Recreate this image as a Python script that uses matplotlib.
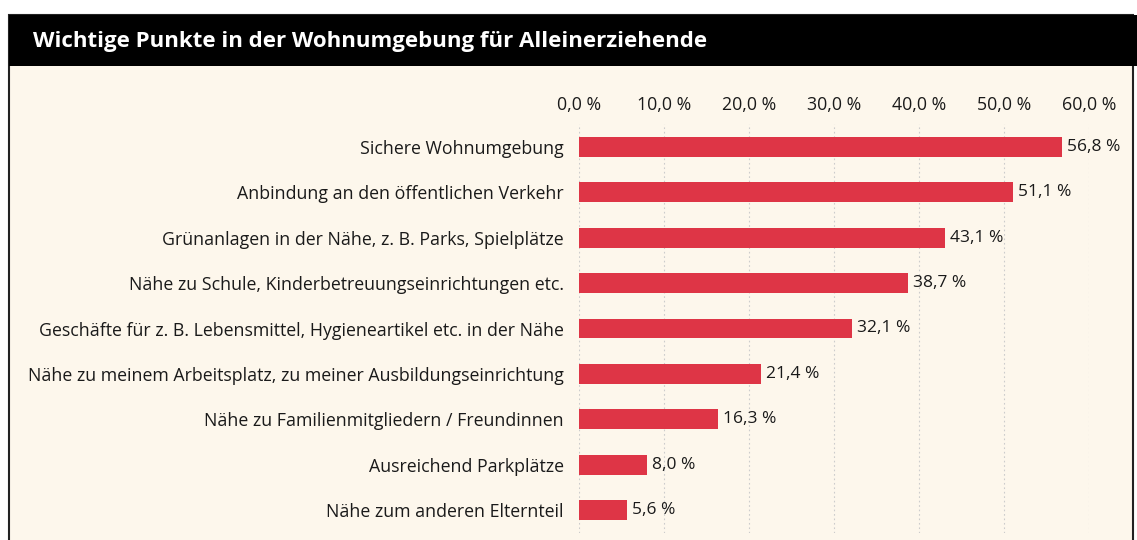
import matplotlib
matplotlib.use("Agg")
import matplotlib.pyplot as plt
from matplotlib.patches import Rectangle

# Daten
kategorien = [
    "Sichere Wohnumgebung",
    "Anbindung an den öffentlichen Verkehr",
    "Grünanlagen in der Nähe, z. B. Parks, Spielplätze",
    "Nähe zu Schule, Kinderbetreuungseinrichtungen etc.",
    "Geschäfte für z. B. Lebensmittel, Hygieneartikel etc. in der Nähe",
    "Nähe zu meinem Arbeitsplatz, zu meiner Ausbildungseinrichtung",
    "Nähe zu Familienmitgliedern / Freundinnen",
    "Ausreichend Parkplätze",
    "Nähe zum anderen Elternteil",
]
werte = [56.8, 51.1, 43.1, 38.7, 32.1, 21.4, 16.3, 8.0, 5.6]
ticks = [0, 10, 20, 30, 40, 50, 60]

titel = "Wichtige Punkte in der Wohnumgebung für Alleinerziehende"

W, H = 1137, 540
bg = "#fdf7ec"
rot = "#de3546"
plt.rcParams["font.family"] = ["Open Sans", "DejaVu Sans"]

fig = plt.figure(figsize=(W / 100, H / 100), dpi=100)
fig.patch.set_facecolor("white")

# Rahmen + Hintergrund
fig.add_artist(Rectangle((9 / W, -0.05), (1133 - 9) / W, (H - 15) / H + 0.05,
                         transform=fig.transFigure, facecolor=bg,
                         edgecolor="#222222", linewidth=1.5, zorder=0))
# Titelbalken
fig.add_artist(Rectangle((9 / W, 1 - 66 / H), (W - 9) / W, 51 / H,
                         transform=fig.transFigure, facecolor="black",
                         edgecolor="none", zorder=1))
fig.text(33 / W, 1 - 41 / H, titel, color="white", fontsize=16,
         fontweight="bold", va="center", ha="left", zorder=2)

x0, x1 = 579, 1089
ax = fig.add_axes([x0 / W, 1 - 533 / H, (x1 - x0) / W, (533 - 124) / H])
ax.set_facecolor("none")

y = list(range(len(kategorien)))
ax.barh(y, werte, height=0.44, color=rot, zorder=3)
for yi, v in zip(y, werte):
    ax.text(v + 0.6, yi, f"{v:.1f} %".replace(".", ","), va="center",
            ha="left", fontsize=12.5, color="#1a1a1a")

ax.set_xlim(0, 60)
ax.set_ylim(len(kategorien) - 0.5, -0.5)
ax.set_xticks(ticks)
ax.set_xticklabels([f"{t:.1f} %".replace(".", ",") for t in ticks])
ax.xaxis.tick_top()
ax.set_yticks(y)
ax.set_yticklabels(kategorien)
ax.tick_params(axis="both", length=0, labelsize=12.8, colors="#1a1a1a")
ax.tick_params(axis="x", pad=7)
ax.tick_params(axis="y", pad=11)
ax.grid(axis="x", color="#cccccc", linestyle=(0, (1.5, 2.5)), linewidth=0.8)
ax.set_axisbelow(True)
for s in ax.spines.values():
    s.set_visible(False)

fig.savefig("out.png", dpi=100, facecolor=fig.get_facecolor())
